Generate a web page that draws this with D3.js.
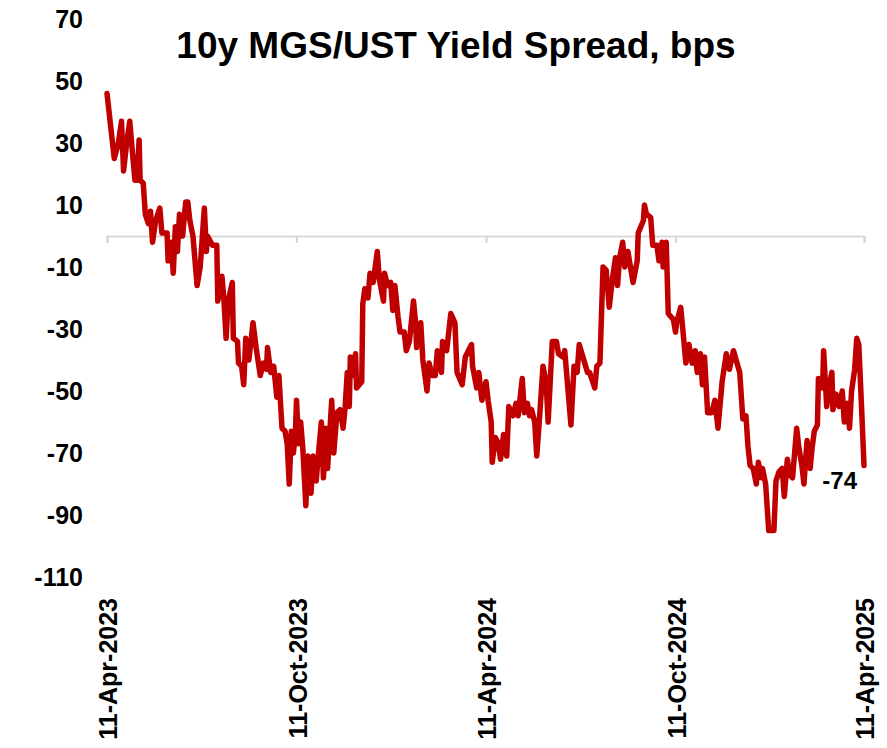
<!DOCTYPE html>
<html>
<head>
<meta charset="utf-8">
<script src="https://cdn.jsdelivr.net/npm/d3@7"></script>
<style>
  html, body { margin: 0; padding: 0; background: #ffffff; }
  svg { display: block; font-family: "Liberation Sans", Arial, sans-serif; }
</style>
</head>
<body>
<svg id="chart" width="887" height="748"></svg>
<script>
// ---- Data ----
const startDate = "2023-04-11";
// day offsets from 11-Apr-2023
const dayOffsets = [
  0, 7, 11, 14, 16, 19, 22, 24, 27, 29, 31, 32, 35, 37, 40, 42, 44, 47, 51, 53,
  58, 59, 62, 64, 66, 68, 70, 73, 76, 78, 80, 83, 87, 90, 94, 96, 97, 102, 106, 107,
  111, 113, 115, 117, 121, 122, 126, 127, 130, 132, 134, 137, 141, 144, 148, 151, 154, 155, 158, 161,
  164, 166, 169, 172, 174, 176, 178, 180, 182, 183, 185, 187, 189, 192, 194, 197, 199, 202, 204, 207,
  209, 211, 213, 217, 219, 222, 225, 228, 230, 232, 234, 235, 238, 240, 241, 246, 247, 249, 252, 254,
  257, 261, 263, 267, 268, 271, 274, 276, 278, 281, 283, 287, 289, 292, 296, 298, 299, 303, 305, 309,
  311, 314, 317, 319, 323, 324, 328, 332, 336, 338, 343, 346, 349, 352, 353, 357, 359, 362, 366, 368,
  371, 372, 375, 378, 380, 383, 386, 388, 392, 395, 397, 401, 403, 406, 408, 410, 413, 415, 418, 421,
  424, 426, 430, 434, 436, 440, 442, 444, 448, 451, 454, 456, 464, 466, 471, 473, 476, 479, 482, 485,
  488, 491, 493, 495, 498, 500, 503, 508, 512, 513, 518, 519, 521, 525, 527, 531, 533, 536, 537, 540,
  542, 547, 549, 550, 554, 556, 559, 562, 565, 568, 570, 573, 575, 577, 580, 584, 587, 590, 594, 598,
  601, 605, 611, 614, 617, 619, 621, 624, 627, 629, 632, 633, 636, 637, 639, 644, 646, 649, 652, 654,
  657, 659, 662, 663, 666, 668, 671, 673, 676, 679, 681, 683, 686, 687, 691, 692, 695, 697, 700, 701,
  704, 707, 710, 712, 715, 717, 719, 722, 724, 726, 729, 731
];
// 10y MGS minus 10y UST yield spread, bps
const spreadBps = [
  46, 25, 30, 37, 21, 30, 37, 29, 18, 18, 31, 18, 17, 7, 4, 8, -2, 5, 9, 1,
  1, -8, -2, -12, 3, -5, 7, 0, 11, 11, 5, 0, -16, -10, 9, -5, 0, -3, -3, -21,
  -13, -21, -33, -21, -15, -33, -34, -41, -42, -48, -33, -40, -28, -36, -45, -41, -43, -36, -44, -42,
  -52, -45, -62, -63, -67, -80, -63, -70, -63, -53, -67, -60, -68, -87, -71, -83, -71, -79, -71, -60,
  -78, -62, -75, -53, -70, -57, -56, -62, -55, -44, -55, -39, -45, -38, -49, -47, -22, -17, -20, -12,
  -15, -5, -14, -21, -12, -16, -15, -24, -16, -26, -31, -31, -37, -34, -21, -28, -36, -28, -40, -50,
  -41, -45, -45, -37, -44, -34, -37, -25, -28, -44, -48, -39, -37, -35, -42, -49, -44, -53, -47, -53,
  -60, -73, -65, -67, -72, -64, -71, -55, -58, -54, -58, -46, -57, -54, -58, -56, -60, -71, -57, -42,
  -47, -60, -34, -34, -38, -39, -37, -45, -61, -42, -44, -35, -44, -44, -49, -42, -41, -10, -11, -23,
  -14, -7, -16, -7, -2, -10, -5, -15, -8, 1, 5, 10, 7, 6, -3, -3, -8, -2, -10, -2,
  -25, -27, -31, -28, -23, -30, -41, -35, -41, -37, -44, -38, -48, -39, -57, -57, -53, -62, -47, -38,
  -43, -37, -44, -59, -58, -68, -74, -75, -80, -73, -78, -75, -80, -85, -95, -95, -79, -76, -75, -84,
  -72, -77, -78, -74, -62, -68, -74, -80, -66, -75, -68, -63, -61, -46, -49, -37, -55, -49, -44, -56,
  -51, -55, -50, -60, -54, -62, -50, -43, -33, -35, -58, -74
];
const yTicks = [70, 50, 30, 10, -10, -30, -50, -70, -90, -110];
const xTickDates = ["2023-04-11", "2023-10-11", "2024-04-11", "2024-10-11", "2025-04-11"];
const xTickLabels = ["11-Apr-2023", "11-Oct-2023", "11-Apr-2024", "11-Oct-2024", "11-Apr-2025"];
const titleText = "10y MGS/UST Yield Spread, bps";
const lastLabel = "-74";

// ---- Build series ----
const parse = d3.timeParse("%Y-%m-%d");
const t0 = parse(startDate);
const series = dayOffsets.map((d, i) => ({ date: d3.timeDay.offset(t0, d), value: spreadBps[i] }));
const tickDates = xTickDates.map(parse);

// ---- Scales ----
const x = d3.scaleTime()
  .domain([tickDates[0], tickDates[tickDates.length - 1]])
  .range([107, 864]);
const y = d3.scaleLinear()
  .domain([-110, 70])
  .range([577, 19]);

const svg = d3.select("#chart");

// Title
svg.append("text")
  .attr("x", 456)
  .attr("y", 58)
  .attr("text-anchor", "middle")
  .attr("font-size", 37)
  .attr("font-weight", "bold")
  .attr("fill", "#000")
  .text(titleText);

// Y axis labels (no line)
const yAxis = d3.axisLeft(y).tickValues(yTicks).tickSize(0).tickPadding(0)
  .tickFormat(d => String(d));
const gy = svg.append("g")
  .attr("transform", "translate(83,0)")
  .call(yAxis);
gy.select(".domain").remove();
gy.selectAll("text")
  .attr("font-size", 25)
  .attr("font-weight", "bold")
  .attr("fill", "#000")
  .attr("font-family", "Liberation Sans, Arial, sans-serif");

// X axis at y = 0
const xAxis = d3.axisBottom(x).tickValues(tickDates).tickSize(7).tickFormat("");
const gx = svg.append("g")
  .attr("transform", `translate(0,${y(0)})`)
  .call(xAxis);
gx.select(".domain").attr("stroke", "#d9d9d9").attr("stroke-width", 2.2);
gx.selectAll(".tick line").attr("stroke", "#d9d9d9").attr("stroke-width", 2.2);

// X tick labels, rotated, at bottom
svg.append("g")
  .selectAll("text")
  .data(tickDates)
  .join("text")
  .attr("transform", d => `translate(${x(d) + 1},598) rotate(-90)`)
  .attr("text-anchor", "end")
  .attr("dy", "0.36em")
  .attr("font-size", 25)
  .attr("font-weight", "bold")
  .attr("fill", "#000")
  .text((d, i) => xTickLabels[i]);

// Line
const line = d3.line()
  .x(d => x(d.date))
  .y(d => y(d.value));
svg.append("path")
  .datum(series)
  .attr("fill", "none")
  .attr("stroke", "#C00000")
  .attr("stroke-width", 5.5)
  .attr("stroke-linejoin", "round")
  .attr("stroke-linecap", "round")
  .attr("d", line);

// Last value label
const last = series[series.length - 1];
svg.append("text")
  .attr("x", x(last.date) - 7)
  .attr("y", y(last.value) + 24)
  .attr("text-anchor", "end")
  .attr("font-size", 24)
  .attr("font-weight", "bold")
  .attr("fill", "#000")
  .text(lastLabel);
</script>
</body>
</html>
